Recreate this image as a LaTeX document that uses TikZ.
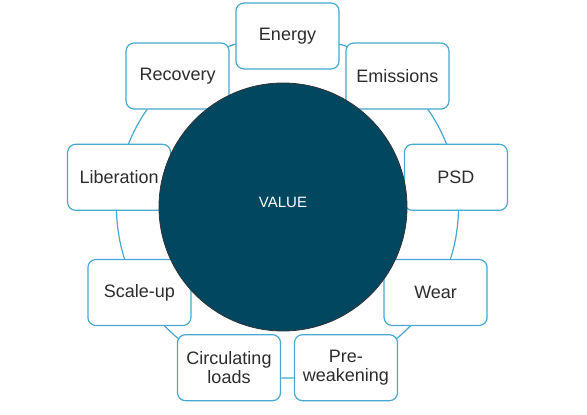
\documentclass[tikz,border=0pt]{standalone}
\usepackage{fontspec}
\setmainfont{Liberation Sans}
\definecolor{ringblue}{RGB}{72,168,208}
\definecolor{valuefill}{RGB}{2,71,96}
\definecolor{txt}{RGB}{45,45,45}
\begin{document}
\begin{tikzpicture}[x=1pt,y=-1pt,
  ring/.style={draw=ringblue,line width=1.2pt},
  box/.style={draw=ringblue,line width=1.2pt,fill=white,rounded corners=8pt,
    minimum width=103pt,minimum height=66pt,align=center,text=txt,
    font=\fontsize{18}{18.5}\selectfont},
  bigc/.style={circle,fill=valuefill,draw=black!80,line width=0.8pt,
    minimum size=248pt,inner sep=0pt,text=white,text depth=10pt,
    font=\fontsize{15}{17}\selectfont}]
\useasboundingbox (0,0) rectangle (587,415);
\coordinate (c) at (287.5,207);
\draw[ring] (c) circle (171pt);
\node[box] (energy) at ([shift={(90:171pt)}]c) {Energy};
\node[box] (emissions) at ([shift={(50:171pt)}]c) {Emissions};
\node[box] (psd) at ([shift={(10:171pt)}]c) {PSD};
\node[box] (wear) at ([shift={(-30:171pt)}]c) {Wear};
\node[box] (prew) at ([shift={(-70:171pt)}]c) {Pre-\\weakening};
\node[box] (circ) at ([shift={(-110:171pt)}]c) {Circulating\\loads};
\node[box] (scale) at ([shift={(-150:171pt)}]c) {Scale-up};
\node[box] (lib) at ([shift={(170:171pt)}]c) {Liberation};
\node[box] (rec) at ([shift={(130:171pt)}]c) {Recovery};
\node[bigc] (value) at (283,207) {VALUE};
\end{tikzpicture}
\end{document}
